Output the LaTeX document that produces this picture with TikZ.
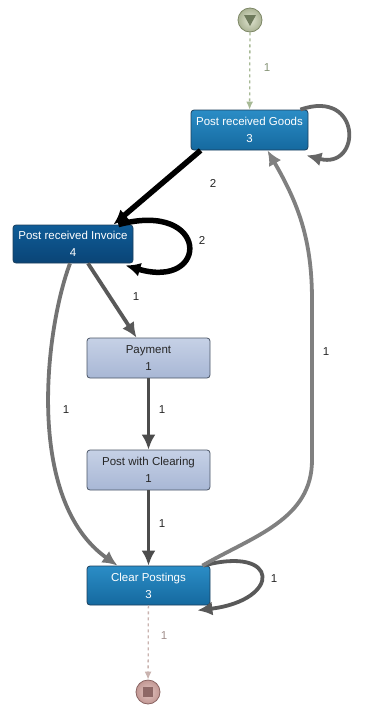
\documentclass[tikz,border=0pt]{standalone}
\usepackage{fontspec}
\setmainfont{Liberation Sans}
\usetikzlibrary{arrows.meta}

\definecolor{xanhtren}{HTML}{2B8DC6}
\definecolor{xanhduoi}{HTML}{15699F}
\definecolor{vienxanh}{HTML}{1B3F5C}
\definecolor{damtren}{HTML}{0F5C97}
\definecolor{damduoi}{HTML}{0A4476}
\definecolor{nhattren}{HTML}{C6D1E6}
\definecolor{nhatduoi}{HTML}{A8B7D5}
\definecolor{viennhat}{HTML}{4A5566}
\definecolor{xanhla}{HTML}{A7B995}
\definecolor{hong}{HTML}{C9B3AF}
\definecolor{oliutrong}{HTML}{E0E4D0}
\definecolor{oliungoai}{HTML}{AAB394}
\definecolor{oliuvien}{HTML}{7D8766}
\definecolor{oliudam}{HTML}{6E7A5C}
\definecolor{hongtrong}{HTML}{E2C4C0}
\definecolor{hongngoai}{HTML}{C29894}
\definecolor{hongvien}{HTML}{8A6462}
\definecolor{hongdam}{HTML}{8E6866}

\begin{document}
\begin{tikzpicture}[x=1pt, y=-1pt, >={Latex[length=15pt,width=14pt]},
    hop/.style={rectangle, rounded corners=3pt, line width=0.8pt, align=center,
        minimum width=117pt, minimum height=40pt, inner sep=2pt,
        font=\fontsize{11.5}{17}\selectfont},
    hopxanh/.style={hop, draw=vienxanh, top color=xanhtren, bottom color=xanhduoi, text=white},
    hopdam/.style={hop, draw=vienxanh, top color=damtren, bottom color=damduoi, text=white},
    hopnhat/.style={hop, draw=viennhat, top color=nhattren, bottom color=nhatduoi, text=black!85},
    canh/.style={->, line width=3.8pt, draw=black!65},
    canhdam/.style={->, line width=5.5pt, draw=black},
    nhan/.style={font=\fontsize{11.5}{13}\selectfont, text=black!85},
    dut/.style={-{Latex[length=8pt,width=7pt]}, dashed, line width=1.3pt}]

    \useasboundingbox (0,0) rectangle (375,707);

    % 1. Điểm bắt đầu và điểm kết thúc
    \node[circle, minimum size=24pt, line width=0.8pt, draw=oliuvien,
        inner color=oliutrong, outer color=oliungoai] (batdau) at (250,20) {};
    \fill[oliudam] ([shift={(-6pt,5pt)}]batdau.center) -- ([shift={(6pt,5pt)}]batdau.center)
        -- ([shift={(0pt,-6pt)}]batdau.center) -- cycle;
    \node[circle, minimum size=24pt, line width=0.8pt, draw=hongvien,
        inner color=hongtrong, outer color=hongngoai] (ketthuc) at (148,692) {};
    \fill[hongdam] ([shift={(-5pt,-5pt)}]ketthuc.center) rectangle ([shift={(5pt,5pt)}]ketthuc.center);

    % 2. Các hoạt động
    \node[hopxanh] (goods) at (249.5,130) {Post received Goods\\3};
    \node[hopdam, minimum width=120pt, minimum height=38pt] (invoice) at (73,244) {Post received Invoice\\4};
    \node[hopnhat, minimum width=123pt] (payment) at (148.5,358) {Payment\\1};
    \node[hopnhat, minimum width=123pt] (clearing) at (148.5,470) {Post with Clearing\\1};
    \node[hopxanh, minimum width=123pt, minimum height=39pt] (postings) at (148.5,585.5) {Clear Postings\\3};

    % 3. Các cạnh nét đứt vào / ra
    \draw[dut, draw=xanhla] (batdau) -- (goods);
    \draw[dut, draw=hong] (postings) -- (ketthuc);

    % 4. Các cạnh giữa các hoạt động
    \draw[canhdam] ([xshift=10pt]goods.south west) -- ([xshift=-20pt]invoice.north east);
    \draw[canhdam] ([xshift=-15pt]invoice.north east) .. controls (210,200) and (210,290)
        .. ([shift={(-8pt,-2pt)}]invoice.south east);
    \draw[canh, draw=black!60] ([xshift=-8pt]goods.north east) .. controls (362,88) and (362,170)
        .. ([shift={(-2pt,-5pt)}]goods.south east);
    \draw[canh] ([xshift=15pt]invoice.south) -- ([xshift=-12pt]payment.north);
    \draw[canh, draw=black!55] ([xshift=-3pt]invoice.south) .. controls (45,330) and (25,500)
        .. ([xshift=-31pt]postings.north);
    \draw[canh, draw=black!70] (payment) -- (clearing);
    \draw[canh, draw=black!70] (clearing) -- (postings);
    \draw[canh, draw=black!65] ([xshift=-7pt]postings.north east) .. controls (280,545) and (282,600)
        .. ([shift={(-13pt,-5pt)}]postings.south east);
    \draw[canh, draw=black!50] ([xshift=-8pt]postings.north east) to[out=30, in=-90] (312,460)
        -- (312,300) to[out=90, in=-60] ([xshift=18pt]goods.south);

    % 5. Nhãn tần suất
    \node[nhan, text=xanhla!80!black] (n1) at (267,68) {1};
    \node[nhan] (n2) at (213,183) {2};
    \node[nhan] (n3) at (202,240) {2};
    \node[nhan] (n4) at (136,297) {1};
    \node[nhan] (n5) at (66,410) {1};
    \node[nhan] (n6) at (162,410) {1};
    \node[nhan] (n7) at (326,352) {1};
    \node[nhan] (n8) at (162,524) {1};
    \node[nhan] (n9) at (274,579) {1};
    \node[nhan, text=hong!80!black] (n10) at (164,636) {1};

\end{tikzpicture}
\end{document}
